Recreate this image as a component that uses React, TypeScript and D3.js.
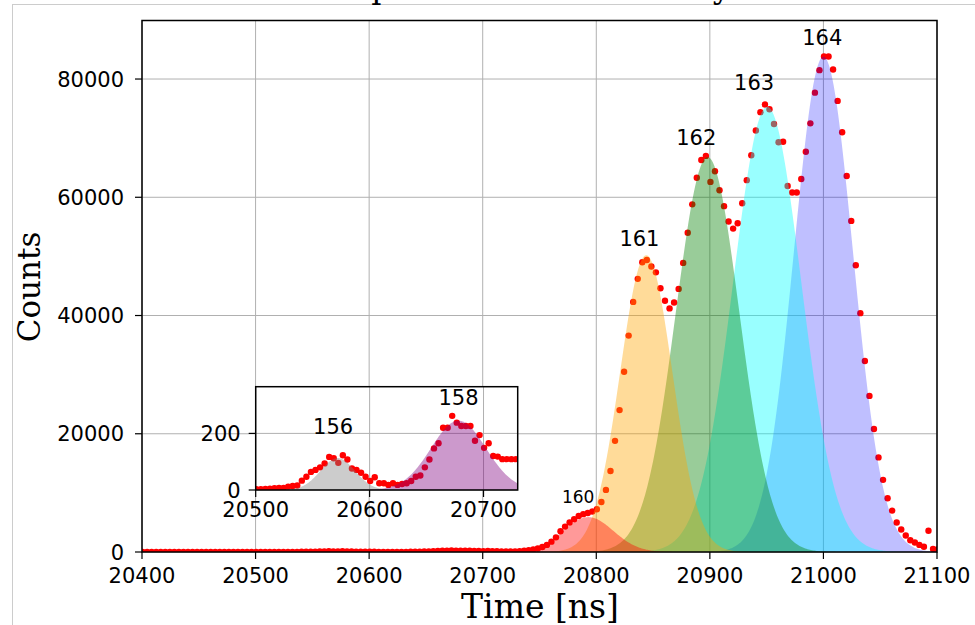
import React, { useEffect, useRef } from 'react';
import * as d3 from 'd3';

// histogram bins, 4 ns wide, first bin centre at 20400.5 ns
const binStart = 20400.5;
const binWidth = 4;

// 20400 - 20500 ns, flat background
const baselineCounts = [
  2, 3, 2, 2, 3, 2, 3, 3, 2, 3,
  2, 2, 3, 3, 2, 3, 2, 3, 3, 2,
  3, 2, 3, 3, 3,
];

// 20500 - 20730 ns
const insetCounts = [
  3, 3, 4, 5, 6, 7, 7, 12, 14, 16,
  33, 47, 64, 71, 80, 94, 117, 112, 96, 123,
  108, 76, 71, 61, 47, 32, 45, 24, 24, 18,
  24, 18, 21, 24, 32, 47, 51, 80, 108, 147,
  165, 220, 220, 262, 238, 226, 226, 226, 174, 194,
  149, 165, 120, 118, 109, 109, 109, 109,
];

// 20730 - 21100 ns
const peakCounts = [
  150, 200, 300, 430, 600, 850, 1200, 1750, 2480, 3500,
  4300, 5000, 5550, 6100, 6400, 6600, 6850, 7220, 8460, 10500,
  13700, 18800, 24000, 30500, 36600, 42300, 46200, 49000, 49400, 48300,
  47300, 44600, 42500, 41200, 42200, 44500, 48900, 54000, 58800, 63300,
  66300, 67000, 62600, 64400, 61200, 58500, 55900, 54700, 55600, 59000,
  62900, 67100, 71300, 74400, 75700, 74900, 72400, 69300, 69400, 61900,
  60800, 60800, 63100, 67700, 72500, 77700, 81500, 83800, 83800, 81600,
  76300, 71000, 63600, 56000, 48500, 40400, 32300, 26400, 20800, 16000,
  12200, 9100, 7000, 5000, 3800, 2800, 2000, 1600, 1200, 900,
  3600, 500, 450,
];

// gaussian fits, drawn in this order
const fitLabels = ['164', '163', '162', '161', '160'];
const fitCenters = [21000, 20950.5, 20898, 20844, 20793];
const fitAmps = [83800, 75300, 66800, 50200, 5900];
const fitSigmas = [26, 30, 28, 23, 22];
const fitColors = ['#0000ff', '#00ffff', '#008000', '#ffa500', '#ff0000'];
const fitAlphas = [0.25, 0.4, 0.4, 0.4, 0.4];
const labelTimes = [20999, 20939, 20888, 20838, 20784];
const labelCounts = [87100, 79500, 70200, 53100, 9350];
const labelSizes = [21, 21, 21, 21, 17];

const insetLabels = ['156', '158'];
const insetCenters = [20572, 20678];
const insetAmps = [113, 245];
const insetSigmas = [15, 24];
const insetColors = ['#808080', '#800080'];
const insetLabelTimes = [20568, 20678];
const insetLabelCounts = [226, 328];

const xTicks = [20400, 20500, 20600, 20700, 20800, 20900, 21000, 21100];
const yTicks = [0, 20000, 40000, 60000, 80000];
const insetXTicks = [20500, 20600, 20700];
const insetYTicks = [0, 200];

const sans = 'DejaVu Sans';
const serif = 'DejaVu Serif';

function gauss(t: number, c: number, a: number, s: number) {
  return a * Math.exp(-((t - c) * (t - c)) / (2 * s * s));
}

function App() {
  const ref = useRef<SVGSVGElement>(null);

  useEffect(() => {
    const svg = d3.select(ref.current);
    svg.selectAll('*').remove();

    const counts = baselineCounts.concat(insetCounts, peakCounts);
    const points = counts.map((c, i) => ({ t: binStart + i * binWidth, c: c }));

    // figure frame
    svg.append('rect')
      .attr('x', 12.5).attr('y', 4.5)
      .attr('width', 1100).attr('height', 1100)
      .attr('fill', 'none').attr('stroke', '#cccccc');

    svg.append('text')
      .attr('x', 540).attr('y', -2.5)
      .attr('text-anchor', 'middle')
      .style('font-family', serif).style('font-size', '32px')
      .text('Spectrum of natural Dy');

    // ---------- main axes ----------
    const L = 142, R = 937, T = 20.5, B = 552;
    const x = d3.scaleLinear().domain([20400, 21100]).range([L, R]);
    const y = d3.scaleLinear().domain([0, 89900]).range([B, T]);

    svg.append('clipPath').attr('id', 'mainclip')
      .append('rect').attr('x', L).attr('y', T).attr('width', R - L).attr('height', B - T);

    const grid = svg.append('g').attr('stroke', '#b0b0b0').attr('stroke-width', 1);
    xTicks.forEach(v => {
      grid.append('line').attr('x1', x(v)).attr('x2', x(v)).attr('y1', T).attr('y2', B);
    });
    yTicks.forEach(v => {
      grid.append('line').attr('x1', L).attr('x2', R).attr('y1', y(v)).attr('y2', y(v));
    });

    const plot = svg.append('g').attr('clip-path', 'url(#mainclip)');
    plot.selectAll('circle')
      .data(points)
      .enter()
      .append('circle')
      .attr('cx', d => x(d.t))
      .attr('cy', d => y(d.c))
      .attr('r', 3.2)
      .attr('fill', '#ff0000');

    const samples = d3.range(20400, 21100.5, 1);
    fitLabels.forEach((lab, i) => {
      const area = d3.area<number>()
        .x(t => x(t))
        .y0(y(0))
        .y1(t => y(gauss(t, fitCenters[i], fitAmps[i], fitSigmas[i])));
      plot.append('path')
        .attr('d', area(samples))
        .attr('fill', fitColors[i])
        .attr('fill-opacity', fitAlphas[i]);
    });

    svg.append('rect')
      .attr('x', L).attr('y', T).attr('width', R - L).attr('height', B - T)
      .attr('fill', 'none').attr('stroke', '#000').attr('stroke-width', 1.5);

    const axes = svg.append('g').style('font-family', sans).style('font-size', '21px');
    xTicks.forEach(v => {
      axes.append('line').attr('x1', x(v)).attr('x2', x(v)).attr('y1', B).attr('y2', B + 7)
        .attr('stroke', '#000').attr('stroke-width', 1.2);
      axes.append('text').attr('x', x(v)).attr('y', B + 31)
        .attr('text-anchor', 'middle').text(String(v));
    });
    yTicks.forEach(v => {
      axes.append('line').attr('x1', L - 7).attr('x2', L).attr('y1', y(v)).attr('y2', y(v))
        .attr('stroke', '#000').attr('stroke-width', 1.2);
      axes.append('text').attr('x', L - 18).attr('y', y(v)).attr('dy', '0.36em')
        .attr('text-anchor', 'end').text(String(v));
    });

    svg.append('text')
      .attr('x', 540).attr('y', 618)
      .attr('text-anchor', 'middle')
      .style('font-family', serif).style('font-size', '33px')
      .text('Time [ns]');
    svg.append('text')
      .attr('transform', 'translate(40,287) rotate(-90)')
      .attr('text-anchor', 'middle')
      .style('font-family', serif).style('font-size', '31px')
      .text('Counts');

    fitLabels.forEach((lab, i) => {
      svg.append('text')
        .attr('x', x(labelTimes[i])).attr('y', y(labelCounts[i])).attr('dy', '0.36em')
        .attr('text-anchor', 'middle')
        .style('font-family', sans).style('font-size', labelSizes[i] + 'px')
        .text(lab);
    });

    // ---------- inset ----------
    const iL = 255.7, iR = 517.7, iT = 386.7, iB = 490;
    const ix = d3.scaleLinear().domain([20500, 20730]).range([iL, iR]);
    const iy = d3.scaleLinear().domain([0, 365]).range([iB, iT]);

    svg.append('clipPath').attr('id', 'insetclip')
      .append('rect').attr('x', iL).attr('y', iT).attr('width', iR - iL).attr('height', iB - iT);

    svg.append('rect')
      .attr('x', iL).attr('y', iT).attr('width', iR - iL).attr('height', iB - iT)
      .attr('fill', '#fff');

    const igrid = svg.append('g').attr('stroke', '#b0b0b0').attr('stroke-width', 1);
    insetXTicks.forEach(v => {
      igrid.append('line').attr('x1', ix(v)).attr('x2', ix(v)).attr('y1', iT).attr('y2', iB);
    });
    insetYTicks.forEach(v => {
      igrid.append('line').attr('x1', iL).attr('x2', iR).attr('y1', iy(v)).attr('y2', iy(v));
    });

    const iplot = svg.append('g').attr('clip-path', 'url(#insetclip)');
    iplot.selectAll('circle')
      .data(points.filter(p => p.t >= 20496 && p.t <= 20734))
      .enter()
      .append('circle')
      .attr('cx', d => ix(d.t))
      .attr('cy', d => iy(d.c))
      .attr('r', 3.2)
      .attr('fill', '#ff0000');

    const isamples = d3.range(20500, 20730.5, 0.5);
    insetLabels.forEach((lab, i) => {
      const area = d3.area<number>()
        .x(t => ix(t))
        .y0(iy(0))
        .y1(t => iy(gauss(t, insetCenters[i], insetAmps[i], insetSigmas[i])));
      iplot.append('path')
        .attr('d', area(isamples))
        .attr('fill', insetColors[i])
        .attr('fill-opacity', 0.4);
    });

    svg.append('rect')
      .attr('x', iL).attr('y', iT).attr('width', iR - iL).attr('height', iB - iT)
      .attr('fill', 'none').attr('stroke', '#000').attr('stroke-width', 1.5);

    const iaxes = svg.append('g').style('font-family', sans).style('font-size', '21px');
    insetXTicks.forEach(v => {
      iaxes.append('line').attr('x1', ix(v)).attr('x2', ix(v)).attr('y1', iB).attr('y2', iB + 7)
        .attr('stroke', '#000').attr('stroke-width', 1.2);
      iaxes.append('text').attr('x', ix(v)).attr('y', iB + 27)
        .attr('text-anchor', 'middle').text(String(v));
    });
    insetYTicks.forEach(v => {
      iaxes.append('line').attr('x1', iL - 7).attr('x2', iL).attr('y1', iy(v)).attr('y2', iy(v))
        .attr('stroke', '#000').attr('stroke-width', 1.2);
      iaxes.append('text').attr('x', iL - 15).attr('y', iy(v)).attr('dy', '0.36em')
        .attr('text-anchor', 'end').text(String(v));
    });

    insetLabels.forEach((lab, i) => {
      svg.append('text')
        .attr('x', ix(insetLabelTimes[i])).attr('y', iy(insetLabelCounts[i])).attr('dy', '0.36em')
        .attr('text-anchor', 'middle')
        .style('font-family', sans).style('font-size', '21px')
        .text(lab);
    });
  }, []);

  return (
    <svg
      ref={ref}
      width={975}
      height={625}
      style={{ position: 'absolute', left: 0, top: 0, background: '#fff' }}
    />
  );
}

export default App;
